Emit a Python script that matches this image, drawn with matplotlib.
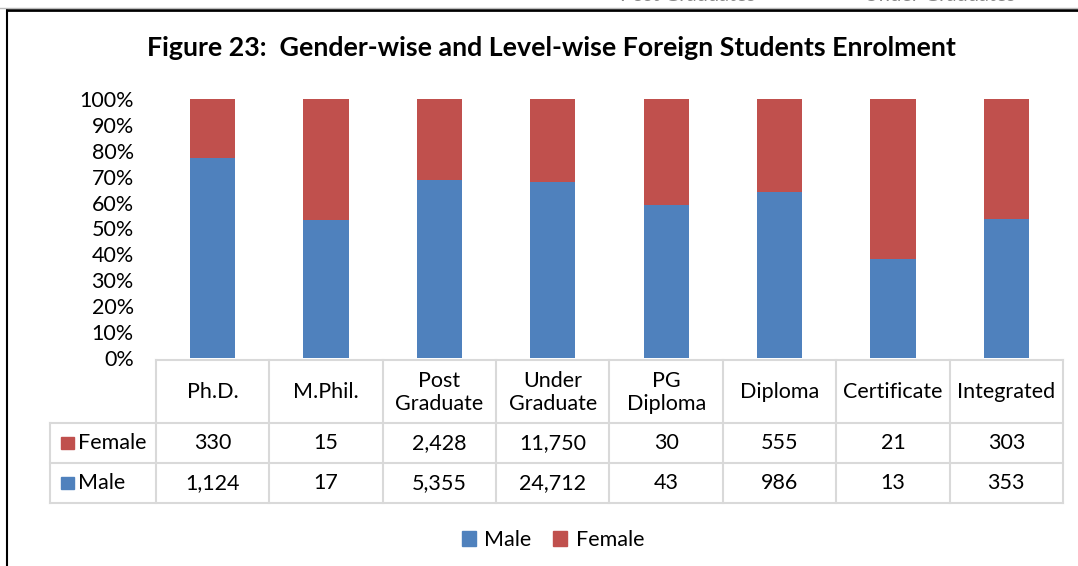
import numpy as np
import matplotlib.pyplot as plt
from matplotlib.patches import Patch, Rectangle
from matplotlib.lines import Line2D

levels = ['Ph.D.', 'M.Phil.', 'Post\nGraduate', 'Under\nGraduate', 'PG\nDiploma',
          'Diploma', 'Certificate', 'Integrated']
male = np.array([1124, 17, 5355, 24712, 43, 986, 13, 353])
female = np.array([330, 15, 2428, 11750, 30, 555, 21, 303])
yticks = np.arange(0, 101, 10)

blue = '#4F81BD'
red = '#C0504D'
grid = '#D9D9D9'
fs = 15.5
plt.rcParams['font.family'] = ['Lato', 'DejaVu Sans']

W, H = 1078, 566
fig = plt.figure(figsize=(W / 100, H / 100), dpi=100)


def fx(px):
  return px / W


def fy(py):
  return 1 - py / H


# page frame from the source document
fig.add_artist(Line2D([fx(7), fx(W)], [fy(10), fy(10)], color='black', lw=2))
fig.add_artist(Line2D([fx(7), fx(7)], [fy(10), fy(H)], color='black', lw=1.5))
fig.add_artist(Line2D([fx(0), fx(W)], [fy(7.5), fy(7.5)], color='#BBBBBB', lw=1))
fig.text(fx(688), fy(4), 'Post Graduates', fontsize=14.5, color='#888888',
         ha='center', va='bottom')
fig.text(fx(940), fy(4), 'Under Graduates', fontsize=14.5, color='#888888',
         ha='center', va='bottom')

fig.text(fx(551), fy(48), 'Figure 23:  Gender-wise and Level-wise Foreign Students Enrolment',
         fontsize=19.3, fontweight='bold', ha='center', va='center')

x0, x1 = 156, 1063
ax = fig.add_axes([fx(x0), fy(358), fx(x1 - x0), fy(99) - fy(358)])
total = male + female
mp = male / total * 100
fp = female / total * 100
x = np.arange(len(levels))
ax.bar(x, mp, width=0.4, color=blue, label='Male')
ax.bar(x, fp, width=0.4, bottom=mp, color=red, label='Female')
ax.set_xlim(-0.5, len(levels) - 0.5)
ax.set_ylim(0, 100)
ax.set_yticks(yticks)
ax.set_yticklabels([f'{v}%' for v in yticks], fontsize=fs)
ax.tick_params(axis='y', length=0, pad=16)
ax.set_xticks([])
for s in ax.spines.values():
  s.set_visible(False)

# data table under the plot
colw = (x1 - x0) / len(levels)
rows = [360, 423, 463, 503]
lbl_x = 50
fig.add_artist(Line2D([fx(x0), fx(x1)], [fy(rows[0]), fy(rows[0])], color=grid, lw=1.5))
for r in rows[1:]:
  fig.add_artist(Line2D([fx(lbl_x), fx(x1)], [fy(r), fy(r)], color=grid, lw=1.5))
fig.add_artist(Line2D([fx(lbl_x), fx(lbl_x)], [fy(rows[1]), fy(rows[3])], color=grid, lw=1.5))
for k in range(len(levels) + 1):
  xp = x0 + k * colw
  fig.add_artist(Line2D([fx(xp), fx(xp)], [fy(rows[0]), fy(rows[3])], color=grid, lw=1.5))

for k, lev in enumerate(levels):
  cx = x0 + (k + 0.5) * colw
  fig.text(fx(cx), fy((rows[0] + rows[1]) / 2 + 1), lev, fontsize=fs, ha='center',
           va='center', linespacing=1.2)
  fig.text(fx(cx), fy((rows[1] + rows[2]) / 2), f'{female[k]:,}', fontsize=fs,
           ha='center', va='center')
  fig.text(fx(cx), fy((rows[2] + rows[3]) / 2), f'{male[k]:,}', fontsize=fs,
           ha='center', va='center')

for name, col, r0, r1 in [('Female', red, rows[1], rows[2]), ('Male', blue, rows[2], rows[3])]:
  cy = (r0 + r1) / 2
  fig.add_artist(Rectangle((fx(61), fy(cy + 6)), fx(13), fy(cy - 6) - fy(cy + 6),
                           color=col, transform=fig.transFigure))
  fig.text(fx(78), fy(cy), name, fontsize=fs, ha='left', va='center')

handles = [Patch(color=blue, label='Male'), Patch(color=red, label='Female')]
fig.legend(handles=handles, loc='center', bbox_to_anchor=(fx(553), fy(540)), ncol=2,
           frameon=False, fontsize=fs, handlelength=0.65, handleheight=0.65,
           handletextpad=0.4, columnspacing=1.0)

fig.savefig('out.png', dpi=100)
